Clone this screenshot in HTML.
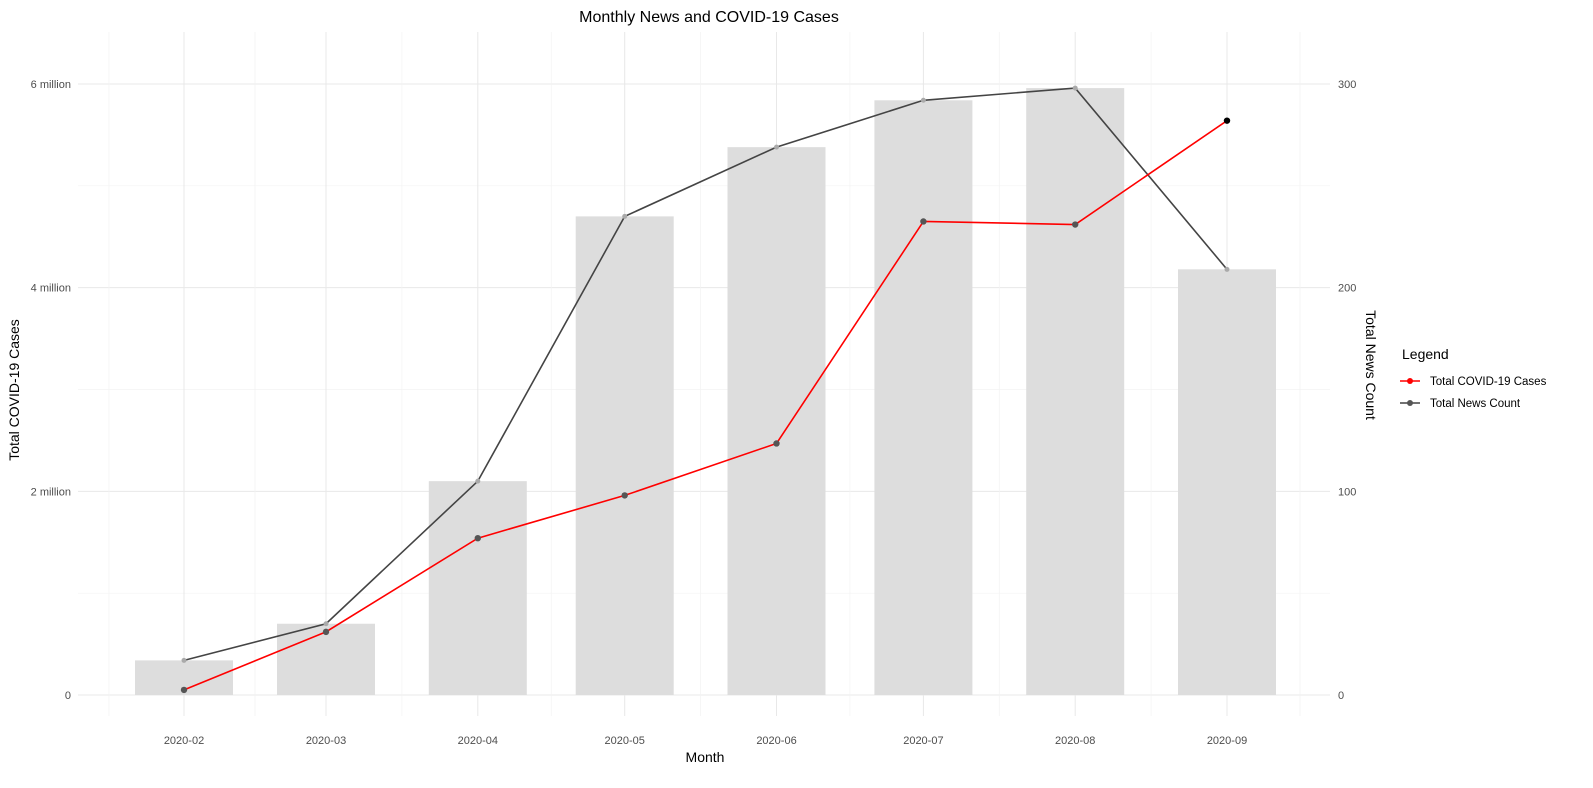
<!DOCTYPE html>
<html><head><meta charset="utf-8"><style>
body{margin:0;background:#fff;font-family:"Liberation Sans",sans-serif;}
svg text{font-family:"Liberation Sans",sans-serif;}
</style></head><body>
<svg id="chart" width="1593" height="783">
<g id="grid"></g><g id="bars"></g><g id="lines"></g><g id="axes"></g>
<text x="709" y="22" text-anchor="middle" font-size="16" fill="#000">Monthly News and COVID-19 Cases</text>
<text x="705" y="762" text-anchor="middle" font-size="14" fill="#000">Month</text>
<text transform="translate(19,390) rotate(-90)" text-anchor="middle" font-size="14" fill="#000">Total COVID-19 Cases</text>
<text transform="translate(1366,365) rotate(90)" text-anchor="middle" font-size="14" fill="#000">Total News Count</text>
<g>
<text x="1402" y="359" font-size="14" fill="#000">Legend</text>
<g><line x1="1400" x2="1420" y1="381" y2="381" stroke="#f00" stroke-width="1.5"/><circle cx="1410" cy="381" r="3" fill="#f00"/><text x="1430" y="385" font-size="11.5" fill="#000">Total COVID-19 Cases</text></g>
<g><line x1="1400" x2="1420" y1="403" y2="403" stroke="#444" stroke-width="1.5"/><circle cx="1410" cy="403" r="3" fill="#555"/><text x="1430" y="407" font-size="11.5" fill="#000">Total News Count</text></g>
</g>
</svg>
<script>
const months=["2020-02","2020-03","2020-04","2020-05","2020-06","2020-07","2020-08","2020-09"];
const newsCount=[17,35,105,235,269,292,298,209];
const cases=[0.05,0.62,1.54,1.96,2.47,4.65,4.62,5.64];
const leftTicks=[0,2,4,6];
const leftTickLabels=["0","2 million","4 million","6 million"];
const rightTicks=[0,100,200,300];
const NS="http://www.w3.org/2000/svg";
function mk(p,t,a){const e=document.createElementNS(NS,t);for(const k in a)e.setAttribute(k,a[k]);p.appendChild(e);return e;}
function dayOf(m){const [y,mo]=m.split("-").map(Number);return Date.UTC(y,mo-1,1)/864e5;}
const d0=dayOf("2020-02"),pxDay=(1227-184)/(dayOf("2020-09")-d0);
const x=m=>184+(dayOf(m)-d0)*pxDay;
const yL=v=>695-v*(611/6);
const yR=v=>695-v*(611/300);
const L=78,R=1330,T=32,B=716;
const grid=document.getElementById('grid');
for(let v=0;v<=6;v++){const e=mk(grid,'line',{x1:L,x2:R,y1:yL(v),y2:yL(v),stroke:v%2?'#f3f3f3':'#e8e8e8','stroke-width':v%2?0.7:1});

}
const xs=months.map(x);
const minor=[];minor.push(xs[0]-(xs[1]-xs[0])/2-4);
for(let i=0;i<xs.length-1;i++)minor.push((xs[i]+xs[i+1])/2);
minor.push(xs[xs.length-1]+73);
minor.forEach(p=>{const e=mk(grid,'line',{x1:p,x2:p,y1:T,y2:B,stroke:'#f3f3f3','stroke-width':0.7});

});
xs.forEach(p=>{const e=mk(grid,'line',{x1:p,x2:p,y1:T,y2:B,stroke:'#e8e8e8'});

});
const bars=document.getElementById('bars');
months.forEach((m,i)=>{const e=mk(bars,'rect',{x:x(m)-49,y:yR(newsCount[i]),width:98,height:695-yR(newsCount[i]),fill:'#dddddd'});

});
const lines=document.getElementById('lines');
const nl=mk(lines,'polyline',{points:months.map((m,i)=>x(m)+','+yR(newsCount[i])).join(' '),fill:'none',stroke:'#444','stroke-width':1.6});


const cl=mk(lines,'polyline',{points:months.map((m,i)=>x(m)+','+yL(cases[i])).join(' '),fill:'none',stroke:'#f00','stroke-width':1.6});


months.forEach((m,i)=>{const e=mk(lines,'circle',{cx:x(m),cy:yR(newsCount[i]),r:2.5,fill:'#aaa'});

});
months.forEach((m,i)=>{const e=mk(lines,'circle',{cx:x(m),cy:yL(cases[i]),r:3.2,fill:i==months.length-1?'#000':'#555'});

});
const axes=document.getElementById('axes');
leftTicks.forEach((v,i)=>{const e=mk(axes,'text',{x:71,y:yL(v)+4,'text-anchor':'end','font-size':11,fill:'#4d4d4d'});e.textContent=leftTickLabels[i];

});
rightTicks.forEach(v=>{const e=mk(axes,'text',{x:1338,y:yR(v)+4,'font-size':11,fill:'#4d4d4d'});e.textContent=v;

});
months.forEach(m=>{const e=mk(axes,'text',{x:x(m),y:744,'text-anchor':'middle','font-size':11,fill:'#4d4d4d'});e.textContent=m;

});
</script>
</body></html>
